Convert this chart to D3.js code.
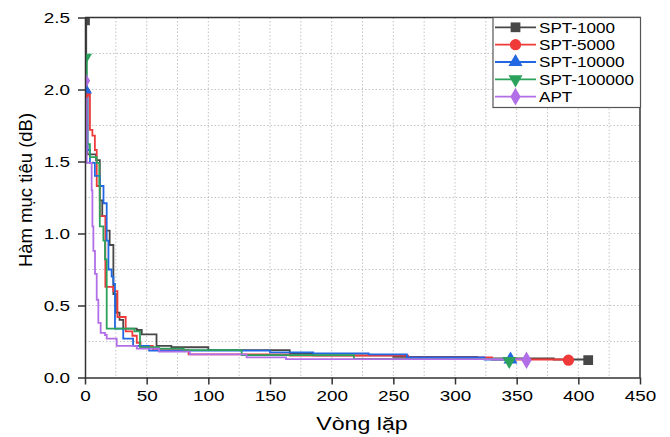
<!DOCTYPE html>
<meta charset="utf-8">
<style>
body { margin: 0; background: #fff; }
svg { font-family: "Liberation Sans", Arial, sans-serif; }
.grid line { stroke: #c4c4c4; stroke-width: 1; stroke-dasharray: 1.5,2; }
.axis path, .axis line { stroke: #333; stroke-width: 1.5; }
.axis text { font-size: 15.5px; fill: #000; }
</style>
<svg width="670" height="437"></svg>
<script src="https://cdnjs.cloudflare.com/ajax/libs/d3/7.8.5/d3.min.js"></script>
<script>

// series names + colours
var names = ["SPT-1000", "SPT-5000", "SPT-10000", "SPT-100000", "APT"];
var colors = ["#474747", "#f03a3a", "#2168e2", "#2ba25c", "#b26ee6"];

// iteration where best value changes, and the value (dB)
var spt1000X = [0, 1, 2, 9, 12, 14, 17, 20, 23, 25, 28, 31, 42, 46, 58, 70, 100, 166, 185, 250, 318, 380, 408];
var spt1000Y = [2.48, 2.0, 1.55, 1.51, 1.23, 1.12, 1.02, 0.92, 0.58, 0.45, 0.40, 0.34, 0.33, 0.30, 0.22, 0.21, 0.19, 0.165, 0.153, 0.143, 0.132, 0.125, 0.12];

var spt5000X = [0, 4, 6, 8, 9.5, 12, 16.5, 23, 26.3, 33, 38.4, 42, 45, 55, 84, 166, 262, 330, 392];
var spt5000Y = [1.98, 1.72, 1.68, 1.58, 1.33, 1.12, 0.63, 0.60, 0.42, 0.32, 0.29, 0.24, 0.22, 0.19, 0.161, 0.152, 0.14, 0.125, 0.12];

var spt10000X = [0, 2, 4, 8, 12, 15, 17.6, 19, 21.6, 23, 24.3, 31, 39, 52, 150, 185, 230, 261, 324, 345];
var spt10000Y = [2.0, 1.58, 1.49, 1.40, 1.33, 1.21, 0.95, 0.75, 0.70, 0.65, 0.34, 0.27, 0.22, 0.187, 0.175, 0.168, 0.161, 0.14, 0.125, 0.125];

var spt100000X = [0, 1.5, 4, 9.5, 11.6, 12, 14.9, 16.2, 17.6, 40, 44.6, 60, 80, 127, 218, 344];
var spt100000Y = [2.22, 1.62, 1.53, 1.49, 1.33, 1.05, 0.95, 0.82, 0.34, 0.32, 0.21, 0.20, 0.19, 0.155, 0.13, 0.115];

var aptX = [0, 1.4, 5.4, 6, 6.8, 8.1, 9.5, 10.8, 12.7, 16.2, 17.6, 25.7, 42, 60, 85, 131, 163, 358];
var aptY = [2.06, 1.49, 1.30, 1.05, 0.88, 0.72, 0.54, 0.38, 0.31, 0.295, 0.27, 0.22, 0.20, 0.18, 0.16, 0.14, 0.128, 0.12];

var xTicks = [0, 50, 100, 150, 200, 250, 300, 350, 400, 450];
var yTicks = [0.0, 0.5, 1.0, 1.5, 2.0, 2.5];

var seriesX = [spt1000X, spt5000X, spt10000X, spt100000X, aptX];
var seriesY = [spt1000Y, spt5000Y, spt10000Y, spt100000Y, aptY];
var symbols = [d3.symbolSquare, d3.symbolCircle, d3.symbolTriangle, d3.symbolTriangle, d3.symbolDiamond];
var symRot = [0, 0, 0, 180, 0];
var symSize = [95, 100, 85, 85, 90];

var svg = d3.select("svg");
var pLeft = 85, pRight = 640, pTop = 17.5, pBottom = 377.5;

var x = d3.scaleLinear().domain([0, 450]).range([pLeft, pRight]);
var y = d3.scaleLinear().domain([0, 2.5]).range([pBottom, pTop]);

svg.append("defs").append("clipPath").attr("id", "plot")
  .append("rect").attr("x", pLeft).attr("y", pTop)
  .attr("width", pRight - pLeft).attr("height", pBottom - pTop);

// dotted grid at major and minor ticks
var grid = svg.append("g").attr("class", "grid");
grid.selectAll(".gx").data(d3.range(25, 450, 25)).enter().append("line")
  .attr("x1", function(d) { return x(d); }).attr("x2", function(d) { return x(d); })
  .attr("y1", pTop).attr("y2", pBottom);
grid.selectAll(".gy").data(d3.range(0.25, 2.5, 0.25)).enter().append("line")
  .attr("y1", function(d) { return y(d); }).attr("y2", function(d) { return y(d); })
  .attr("x1", pLeft).attr("x2", pRight);

// lines
var plot = svg.append("g").attr("clip-path", "url(#plot)");
var line = d3.line()
  .x(function(d) { return x(d[0]); })
  .y(function(d) { return y(d[1]); })
  .curve(d3.curveStepAfter);

names.forEach(function(n, i) {
  var pts = seriesX[i].map(function(v, j) { return [v, seriesY[i][j]]; });
  plot.append("path").datum(pts)
    .attr("fill", "none")
    .attr("stroke", colors[i])
    .attr("stroke-width", 1.8)
    .attr("d", line);
});

// markers at first and last point
names.forEach(function(n, i) {
  var xs = seriesX[i], ys = seriesY[i];
  var ends = [[xs[0], ys[0]], [xs[xs.length - 1], ys[ys.length - 1]]];
  plot.selectAll(null).data(ends).enter().append("path")
    .attr("d", d3.symbol().type(symbols[i]).size(symSize[i]))
    .attr("transform", function(d) { return "translate(" + x(d[0]) + "," + y(d[1]) + ") rotate(" + symRot[i] + ")"; })
    .attr("fill", colors[i]);
});

// axes
var xAxis = svg.append("g").attr("class", "axis").attr("transform", "translate(0," + pBottom + ")");
xAxis.call(d3.axisBottom(x).tickValues(d3.range(25, 450, 50)).tickFormat("").tickSize(4));
xAxis.call(d3.axisBottom(x).tickValues(xTicks).tickFormat(d3.format("d")).tickSize(7).tickSizeOuter(0));
xAxis.selectAll("text").attr("y", 13).attr("transform", "scale(1.22,1)");

var yAxis = svg.append("g").attr("class", "axis").attr("transform", "translate(" + pLeft + ",0)");
yAxis.call(d3.axisLeft(y).tickValues(d3.range(0.25, 2.5, 0.5)).tickFormat("").tickSize(4));
yAxis.call(d3.axisLeft(y).tickValues(yTicks).tickFormat(d3.format(".1f")).tickSize(7).tickSizeOuter(0));
yAxis.selectAll("text").attr("x", -15 / 1.22).attr("transform", "scale(1.22,1)");

// frame top and right
svg.append("path")
  .attr("d", "M" + pLeft + "," + pTop + "H" + pRight + "V" + pBottom)
  .attr("fill", "none").attr("stroke", "#333").attr("stroke-width", 1.5);

// axis titles
svg.append("text")
  .attr("transform", "translate(362,430) scale(1.22,1)")
  .attr("text-anchor", "middle")
  .style("font-size", "19px").attr("fill", "#000")
  .text("Vòng lặp");

svg.append("text")
  .attr("transform", "translate(32,190) rotate(-90)")
  .attr("text-anchor", "middle")
  .style("font-size", "18.5px").attr("fill", "#000")
  .text("Hàm mục tiêu (dB)");

// legend
var legend = svg.append("g");
legend.append("rect")
  .attr("x", 493).attr("y", pTop).attr("width", 147.5).attr("height", 90)
  .attr("fill", "#fff").attr("stroke", "#555").attr("stroke-width", 1.2);

names.forEach(function(n, i) {
  var ry = 27.3 + i * 17.35;
  legend.append("line")
    .attr("x1", 495).attr("x2", 536).attr("y1", ry).attr("y2", ry)
    .attr("stroke", colors[i]).attr("stroke-width", 1.8);
  legend.append("path")
    .attr("d", d3.symbol().type(symbols[i]).size(symSize[i]))
    .attr("transform", "translate(515.5," + ry + ") rotate(" + symRot[i] + ")")
    .attr("fill", colors[i]);
  legend.append("text")
    .attr("transform", "translate(539," + (ry + 5.3) + ") scale(1.14,1)")
    .style("font-size", "15px").attr("fill", "#000")
    .text(n);
});

</script>
